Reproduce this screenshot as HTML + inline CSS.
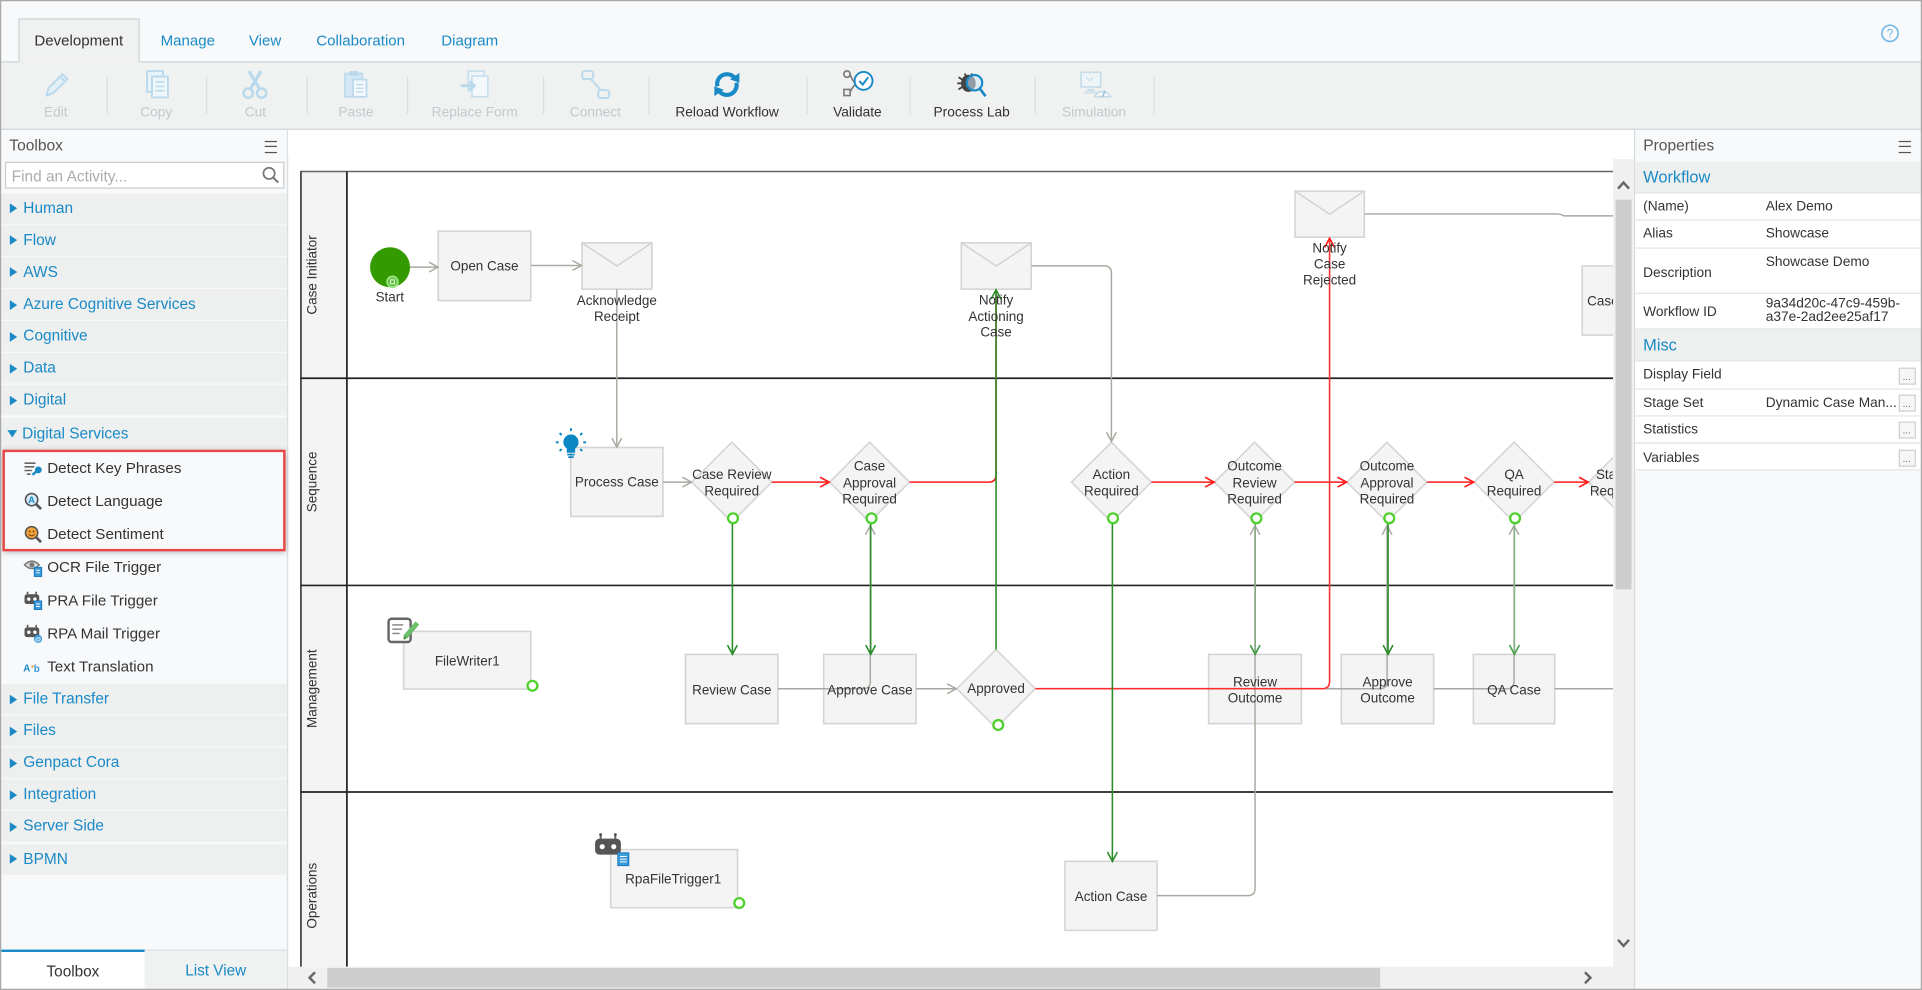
<!DOCTYPE html>
<html><head><meta charset="utf-8">
<style>
html,body{margin:0;padding:0;width:1922px;height:990px;overflow:hidden;background:#f8f9fb;}
#root{position:absolute;left:0;top:0;width:1568px;height:808px;transform:scale(1.22577,1.22525);transform-origin:0 0;font-family:"Liberation Sans",sans-serif;color:#333;background:#f8f9fb;overflow:hidden;}
.a{position:absolute;}
.tab{position:absolute;top:15px;height:35px;line-height:36px;font-size:12.3px;color:#1a8ac6;white-space:nowrap;}
.tb{position:absolute;top:85px;font-size:11.2px;text-align:center;width:110px;margin-left:-55px;line-height:15px;color:#c3c9ce;white-space:nowrap;}
.tb.on{color:#333;}
.sep{position:absolute;top:63px;width:1px;height:30px;background:#dcdedf;}
.ico{position:absolute;top:55.4px;width:28px;height:28px;margin-left:-14px;}
.cat{position:absolute;left:1px;width:233px;height:25px;background:#eeefef;font-size:12.6px;color:#1a8ac6;line-height:25px;white-space:nowrap;}
.cat .t{position:absolute;left:18px;}
.tri{position:absolute;left:7px;top:8.5px;width:0;height:0;border-top:4px solid transparent;border-bottom:4px solid transparent;border-left:6px solid #1a8ac6;}
.trid{position:absolute;left:5px;top:10px;width:0;height:0;border-left:4px solid transparent;border-right:4px solid transparent;border-top:6px solid #1a8ac6;}
.item{position:absolute;left:38.5px;font-size:12.4px;color:#333;height:20px;line-height:20px;margin-top:-10px;white-space:nowrap;}
.iic{position:absolute;left:19px;width:16px;height:16px;margin-top:-8px;}
.prow{position:absolute;left:1334px;width:233px;background:#fff;border-bottom:1px solid #e2e4e6;font-size:11.2px;color:#333;}
.prow .l{position:absolute;left:6.5px;}
.prow .v{position:absolute;left:106.5px;white-space:nowrap;}
.psec{position:absolute;left:1334px;width:233px;background:#eeefef;border-bottom:1px solid #e2e4e6;font-size:13.4px;color:#1a8ac6;}
.btn{position:absolute;left:214.5px;width:12px;height:12px;background:#f6f6f6;border:1px solid #cfcfcf;font-size:8px;line-height:14px;text-align:center;color:#666;}
.ham{position:absolute;width:10px;height:8px;border-top:1.4px solid #555;border-bottom:1.4px solid #555;}
.ham:after{content:"";position:absolute;left:0;top:3.3px;width:10px;height:1.4px;background:#555;}
</style></head>
<body>
<div id="root">

<!-- top tab strip -->
<div class="a" style="left:0;top:0;width:1568px;height:50px;background:#f8f9fb;"></div>
<div class="a" style="left:0;top:49.5px;width:1568px;height:1px;background:#cfd3d6;"></div>
<div class="a" style="left:14.6px;top:15px;width:99px;height:35.5px;background:#f0f1f1;border:1px solid #cfd3d6;border-bottom:none;box-sizing:border-box;"></div>
<div class="tab" style="left:28px;color:#333;">Development</div>
<div class="tab" style="left:131px;">Manage</div>
<div class="tab" style="left:203px;">View</div>
<div class="tab" style="left:258px;">Collaboration</div>
<div class="tab" style="left:360px;">Diagram</div>
<svg class="a" style="left:1533px;top:19px" width="18" height="18" viewBox="0 0 18 18"><circle cx="8.9" cy="8.2" r="6.6" fill="none" stroke="#72b6e6" stroke-width="1.3"/><text x="8.9" y="11.6" font-size="9.5" text-anchor="middle" fill="#72b6e6" font-family="Liberation Sans,sans-serif">?</text></svg>

<!-- toolbar -->
<div class="a" style="left:0;top:50.5px;width:1568px;height:54px;background:#f0f1f1;border-bottom:1px solid #cfd3d6;"></div>
<div class="sep" style="left:86.7px"></div>
<div class="sep" style="left:168.3px"></div>
<div class="sep" style="left:249.9px"></div>
<div class="sep" style="left:331.5px"></div>
<div class="sep" style="left:443.4px"></div>
<div class="sep" style="left:528.6px"></div>
<div class="sep" style="left:658px"></div>
<div class="sep" style="left:742px"></div>
<div class="sep" style="left:844px"></div>
<div class="sep" style="left:941px"></div>

<svg class="ico" style="left:45.5px" viewBox="0 0 28 28"><path d="M6 23 L7.5 17 L19 5.5 L23 9.5 L11.5 21 Z" fill="#e3f0f8" stroke="#b9d9ec" stroke-width="1.6" stroke-linejoin="round"/><line x1="17" y1="7.5" x2="21" y2="11.5" stroke="#b9d9ec" stroke-width="1.4"/></svg>
<div class="tb" style="left:45.5px">Edit</div>
<svg class="ico" style="left:127.5px" viewBox="0 0 28 28"><rect x="6" y="3" width="13" height="17" fill="#e8f3f9" stroke="#b9d9ec" stroke-width="1.5"/><rect x="10" y="7.5" width="13" height="17" fill="#eef6fb" stroke="#b9d9ec" stroke-width="1.5"/><line x1="13" y1="12" x2="20" y2="12" stroke="#b9d9ec" stroke-width="1.3"/><line x1="13" y1="15.5" x2="20" y2="15.5" stroke="#b9d9ec" stroke-width="1.3"/><line x1="13" y1="19" x2="20" y2="19" stroke="#b9d9ec" stroke-width="1.3"/></svg>
<div class="tb" style="left:127.5px">Copy</div>
<svg class="ico" style="left:208.4px" viewBox="0 0 28 28"><line x1="9" y1="3" x2="17.5" y2="17" stroke="#b9d9ec" stroke-width="2.6"/><line x1="19" y1="3" x2="10.5" y2="17" stroke="#b9d9ec" stroke-width="2.6"/><circle cx="8.5" cy="21" r="3.8" fill="none" stroke="#b9d9ec" stroke-width="2"/><circle cx="19.5" cy="21" r="3.8" fill="none" stroke="#b9d9ec" stroke-width="2"/></svg>
<div class="tb" style="left:208.4px">Cut</div>
<svg class="ico" style="left:290.4px" viewBox="0 0 28 28"><rect x="5.5" y="5" width="14" height="19" fill="#d3e8f4" stroke="#b9d9ec" stroke-width="1.4"/><rect x="9" y="3" width="7" height="4" fill="#b9d9ec"/><rect x="12" y="10" width="11" height="14" fill="#f2f8fc" stroke="#b9d9ec" stroke-width="1.4"/><line x1="14.5" y1="14" x2="20.5" y2="14" stroke="#b9d9ec"/><line x1="14.5" y1="17" x2="20.5" y2="17" stroke="#b9d9ec"/><line x1="14.5" y1="20" x2="20.5" y2="20" stroke="#b9d9ec"/></svg>
<div class="tb" style="left:290.4px">Paste</div>
<svg class="ico" style="left:387.3px" viewBox="0 0 28 28"><rect x="9" y="3" width="13" height="16" fill="#eef6fb" stroke="#c9dfec" stroke-width="1.4"/><rect x="12" y="7" width="13" height="17" fill="#f3f8fb" stroke="#c9dfec" stroke-width="1.4"/><path d="M3 15 H13 M10 11.5 L14 15 L10 18.5" fill="none" stroke="#b9d9ec" stroke-width="2.4"/></svg>
<div class="tb" style="left:387.3px">Replace Form</div>
<svg class="ico" style="left:485.7px" viewBox="0 0 28 28"><rect x="3" y="3" width="9" height="6.5" rx="2" fill="none" stroke="#b9d9ec" stroke-width="1.6"/><rect x="16" y="18.5" width="9" height="6.5" rx="2" fill="none" stroke="#b9d9ec" stroke-width="1.6"/><line x1="10" y1="9.5" x2="18" y2="18.5" stroke="#b9d9ec" stroke-width="1.6"/></svg>
<div class="tb" style="left:485.7px">Connect</div>
<svg class="ico" style="left:593.2px" viewBox="0 0 28 28"><path d="M6.3 15.5 A8 8 0 0 1 20.5 8.8" fill="none" stroke="#1a8ac6" stroke-width="3.4"/><polygon points="16.5,9.8 24.2,4.5 24.2,12.5" fill="#1a8ac6"/><path d="M21.7 12.5 A8 8 0 0 1 7.5 19.2" fill="none" stroke="#1a8ac6" stroke-width="3.4"/><polygon points="11.5,18.2 3.8,23.5 3.8,15.5" fill="#1a8ac6"/></svg>
<div class="tb on" style="left:593.2px">Reload Workflow</div>
<svg class="ico" style="left:699.5px" viewBox="0 0 28 28"><circle cx="5" cy="5.5" r="2.6" fill="none" stroke="#777" stroke-width="1.3"/><rect x="2.5" y="18" width="5" height="5" fill="none" stroke="#777" stroke-width="1.3"/><path d="M7.5 6 L10 11 L12 13.5 L10 16 L7.5 20" fill="none" stroke="#777" stroke-width="1.3"/><circle cx="18.5" cy="11" r="7.3" fill="#fff" stroke="#1a8ac6" stroke-width="1.6"/><path d="M15 11 L17.8 14 L22.3 8" fill="none" stroke="#1a8ac6" stroke-width="1.6"/></svg>
<div class="tb on" style="left:699.5px">Validate</div>
<svg class="ico" style="left:792.7px" viewBox="0 0 28 28"><ellipse cx="11" cy="13" rx="6" ry="7" fill="#444"/><path d="M3 8 L6 10 M2 13 H5 M3 18 L6 16 M8 5 L9 7 M14 5 L13 7" stroke="#444" stroke-width="1.5"/><circle cx="16" cy="12.5" r="6.3" fill="rgba(210,232,246,0.55)" stroke="#1a8ac6" stroke-width="1.8"/><line x1="20.3" y1="17.3" x2="25" y2="23.5" stroke="#1a8ac6" stroke-width="2.2"/></svg>
<div class="tb on" style="left:792.7px">Process Lab</div>
<svg class="ico" style="left:892.5px" viewBox="0 0 28 28"><rect x="3" y="4" width="16" height="12" fill="#eef5f9" stroke="#c8dce8" stroke-width="1.4"/><path d="M7 8 L10 11 L13 8" fill="none" stroke="#c8dce8"/><rect x="8" y="17.5" width="6" height="2" fill="#c8dce8"/><rect x="5" y="19.5" width="12" height="2" fill="#d6e4ec"/><path d="M14 24 A7 7 0 0 1 27 24 Z" fill="#f3f7fa" stroke="#c8dce8" stroke-width="1.3"/><line x1="20.5" y1="24" x2="22.5" y2="19" stroke="#9fc2da" stroke-width="1.4"/></svg>
<div class="tb" style="left:892.5px">Simulation</div>

<!-- left toolbox panel -->
<div class="a" style="left:0;top:105.5px;width:234px;height:702px;background:#f7f9fb;border-right:1px solid #dcdfe2;"></div>
<div class="a" style="left:7.6px;top:110px;font-size:12.7px;color:#555;line-height:18px;">Toolbox</div>
<div class="ham" style="left:216px;top:114.5px;"></div>
<div class="a" style="left:3.5px;top:132.4px;width:228px;height:22px;background:#fff;border:1px solid #c9cbcd;box-sizing:border-box;"></div>
<div class="a" style="left:9.5px;top:134.5px;font-size:12.6px;color:#a9adb0;line-height:18px;">Find an Activity...</div>
<svg class="a" style="left:213px;top:135px" width="16" height="16" viewBox="0 0 16 16"><circle cx="6.5" cy="6.5" r="4.6" fill="none" stroke="#777" stroke-width="1.4"/><line x1="10" y1="10" x2="14" y2="14" stroke="#777" stroke-width="1.7"/></svg>

<div class="cat" style="top:157.7px"><div class="tri"></div><span class="t">Human</span></div>
<div class="cat" style="top:183.8px"><div class="tri"></div><span class="t">Flow</span></div>
<div class="cat" style="top:209.9px"><div class="tri"></div><span class="t">AWS</span></div>
<div class="cat" style="top:236px"><div class="tri"></div><span class="t">Azure Cognitive Services</span></div>
<div class="cat" style="top:262.1px"><div class="tri"></div><span class="t">Cognitive</span></div>
<div class="cat" style="top:288.2px"><div class="tri"></div><span class="t">Data</span></div>
<div class="cat" style="top:314.3px"><div class="tri"></div><span class="t">Digital</span></div>
<div class="cat" style="top:340.6px;height:26px;line-height:26px;"><div class="trid"></div><span class="t" style="left:17px">Digital Services</span></div>

<div class="a" style="left:1.5px;top:367px;width:231px;height:82.5px;border:2px solid #e84545;box-sizing:border-box;box-shadow:0 1px 5px rgba(0,0,0,0.28);"></div>

<svg class="iic" style="top:381.5px" viewBox="0 0 16 16"><path d="M1 4 H10 M1 7 H9 M1 10 H7 M3 13 H6" stroke="#666" stroke-width="1.3"/><circle cx="12.3" cy="9.5" r="2.8" fill="#1a8ac6"/><line x1="7.5" y1="13.5" x2="10.5" y2="11" stroke="#1a8ac6" stroke-width="2"/></svg>
<div class="item" style="top:381.5px">Detect Key Phrases</div>
<svg class="iic" style="top:408.6px" viewBox="0 0 16 16"><circle cx="6.8" cy="6.8" r="5" fill="#d6ebf7" stroke="#555" stroke-width="1.3"/><text x="6.8" y="9.5" font-size="7.5" font-weight="bold" text-anchor="middle" fill="#1a8ac6" font-family="Liberation Sans,sans-serif">A</text><line x1="10.5" y1="10.5" x2="14.5" y2="14.5" stroke="#555" stroke-width="2.2"/></svg>
<div class="item" style="top:408.6px">Detect Language</div>
<svg class="iic" style="top:435.8px" viewBox="0 0 16 16"><circle cx="6.8" cy="6.8" r="5" fill="#f2a33a" stroke="#555" stroke-width="1.3"/><circle cx="5.2" cy="5.8" r="0.8" fill="#7a4a10"/><circle cx="8.4" cy="5.8" r="0.8" fill="#7a4a10"/><path d="M4.5 8 Q6.8 10.5 9.1 8" fill="none" stroke="#7a4a10" stroke-width="0.9"/><line x1="10.5" y1="10.5" x2="14.5" y2="14.5" stroke="#555" stroke-width="2.2"/></svg>
<div class="item" style="top:435.8px">Detect Sentiment</div>
<svg class="iic" style="top:462.8px" viewBox="0 0 16 16"><path d="M1 6 Q7 0 13 6 Q7 12 1 6 Z" fill="#ddd" stroke="#777" stroke-width="1.2"/><circle cx="7" cy="6" r="2" fill="#777"/><rect x="9" y="8" width="6" height="7.5" fill="#3a9ad9" stroke="#1a7ac0" stroke-width="0.8"/><line x1="10.5" y1="10.5" x2="13.5" y2="10.5" stroke="#fff" stroke-width="0.8"/><line x1="10.5" y1="12.5" x2="13.5" y2="12.5" stroke="#fff" stroke-width="0.8"/></svg>
<div class="item" style="top:462.8px">OCR File Trigger</div>
<svg class="iic" style="top:490px" viewBox="0 0 16 16"><rect x="1" y="3" width="12" height="8" rx="2" fill="#555"/><circle cx="4.5" cy="7" r="1.4" fill="#fff"/><circle cx="9.5" cy="7" r="1.4" fill="#fff"/><line x1="3.5" y1="1" x2="3.5" y2="3" stroke="#555" stroke-width="1.3"/><line x1="10.5" y1="1" x2="10.5" y2="3" stroke="#555" stroke-width="1.3"/><rect x="9" y="8.5" width="6" height="7" fill="#3a9ad9" stroke="#1a7ac0" stroke-width="0.8"/><line x1="10.5" y1="11" x2="13.5" y2="11" stroke="#fff" stroke-width="0.8"/><line x1="10.5" y1="13" x2="13.5" y2="13" stroke="#fff" stroke-width="0.8"/></svg>
<div class="item" style="top:490px">PRA File Trigger</div>
<svg class="iic" style="top:517.2px" viewBox="0 0 16 16"><rect x="1" y="3" width="12" height="8" rx="2" fill="#555"/><circle cx="4.5" cy="7" r="1.4" fill="#fff"/><circle cx="9.5" cy="7" r="1.4" fill="#fff"/><line x1="3.5" y1="1" x2="3.5" y2="3" stroke="#555" stroke-width="1.3"/><line x1="10.5" y1="1" x2="10.5" y2="3" stroke="#555" stroke-width="1.3"/><circle cx="12" cy="12.5" r="3.4" fill="#3a9ad9"/><text x="12" y="14.5" font-size="5.5" text-anchor="middle" fill="#fff" font-family="Liberation Sans,sans-serif">@</text></svg>
<div class="item" style="top:517.2px">RPA Mail Trigger</div>
<svg class="iic" style="top:544.4px" viewBox="0 0 16 16"><text x="0" y="12" font-size="8" font-weight="bold" fill="#1a8ac6" font-family="Liberation Sans,sans-serif">A</text><circle cx="7.5" cy="8" r="1" fill="#f2a33a"/><text x="8.5" y="12.5" font-size="8" font-weight="bold" fill="#3a9ad9" font-family="Liberation Sans,sans-serif">b</text></svg>
<div class="item" style="top:544.4px">Text Translation</div>

<div class="cat" style="top:558px"><div class="tri"></div><span class="t">File Transfer</span></div>
<div class="cat" style="top:584.1px"><div class="tri"></div><span class="t">Files</span></div>
<div class="cat" style="top:610.2px"><div class="tri"></div><span class="t">Genpact Cora</span></div>
<div class="cat" style="top:636.3px"><div class="tri"></div><span class="t">Integration</span></div>
<div class="cat" style="top:662.4px"><div class="tri"></div><span class="t">Server Side</span></div>
<div class="cat" style="top:688.5px"><div class="tri"></div><span class="t">BPMN</span></div>

<div class="a" style="left:118px;top:774.5px;width:116px;height:32px;background:#f0f1f1;border-top:1px solid #dcdfe2;box-sizing:border-box;font-size:12.5px;color:#1a8ac6;text-align:center;line-height:32px;">List View</div>
<div class="a" style="left:1px;top:774.5px;width:117px;height:32px;background:#fff;border-top:2px solid #1a8ac6;box-sizing:border-box;font-size:12.5px;color:#333;text-align:center;line-height:32px;">Toolbox</div>

<!-- diagram area -->
<div class="a" style="left:235px;top:105.5px;width:1098px;height:24px;background:#fff;border-bottom:1px solid #e0e3e5;"></div>
<svg class="a" style="left:236px;top:129px" width="1080" height="660" viewBox="236 129 1080 660" font-family="Liberation Sans,sans-serif" font-size="11">
<rect x="236" y="129" width="1080" height="660" fill="#fff"/>
<rect x="245" y="140" width="38" height="660" fill="#f3f3f3"/>
<line x1="245" y1="140" x2="1316" y2="140" stroke="#666" stroke-width="1.2"/>
<line x1="245" y1="308.7" x2="1316" y2="308.7" stroke="#222" stroke-width="1.4"/>
<line x1="245" y1="477.8" x2="1316" y2="477.8" stroke="#222" stroke-width="1.4"/>
<line x1="245" y1="646.4" x2="1316" y2="646.4" stroke="#222" stroke-width="1.4"/>
<line x1="245.5" y1="140" x2="245.5" y2="800" stroke="#222" stroke-width="1.2"/>
<line x1="283" y1="140" x2="283" y2="800" stroke="#222" stroke-width="1.4"/>
<g fill="#333" text-anchor="middle" dominant-baseline="central">
<text transform="translate(254.5,224.4) rotate(-90)">Case Initiator</text>
<text transform="translate(254.5,393.3) rotate(-90)">Sequence</text>
<text transform="translate(254.5,562.1) rotate(-90)">Management</text>
<text transform="translate(254.5,731) rotate(-90)">Operations</text>
</g>

<!-- nodes -->
<g fill="#f4f4f4" stroke="#d4d4d4" stroke-width="1.3">
<rect x="357.5" y="188.7" width="75.5" height="56.6"/>
<rect x="474.8" y="198.2" width="57" height="37.8"/>
<rect x="784.3" y="198.2" width="57" height="37.8"/>
<rect x="1056.5" y="156" width="56.5" height="37.6"/>
<rect x="1290.8" y="217" width="75" height="56.5"/>
<rect x="465.6" y="365.2" width="75.2" height="56.3"/>
<polygon points="597,360.9 629.6,393.5 597,426.1 564.4,393.5"/>
<polygon points="709.4,360.9 742,393.5 709.4,426.1 676.8,393.5"/>
<polygon points="906.7,360.9 939.3,393.5 906.7,426.1 874.1,393.5"/>
<polygon points="1023.5,360.9 1056.1,393.5 1023.5,426.1 990.9,393.5"/>
<polygon points="1131.5,360.9 1164.1,393.5 1131.5,426.1 1098.9,393.5"/>
<polygon points="1235.2,360.9 1267.8,393.5 1235.2,426.1 1202.6,393.5"/>
<polygon points="1328.6,360.9 1361.2,393.5 1328.6,426.1 1296,393.5"/>
<rect x="329.3" y="515.3" width="103.7" height="47.1"/>
<rect x="559.2" y="534.1" width="75.4" height="56.5"/>
<rect x="672" y="534.1" width="75.3" height="56.5"/>
<polygon points="812.6,530.1 844.6,562.1 812.6,594.1 780.6,562.1"/>
<rect x="986" y="534.1" width="75.7" height="56.5"/>
<rect x="1094.3" y="534.1" width="75.3" height="56.5"/>
<rect x="1202" y="534.1" width="66.3" height="56.5"/>
<rect x="498.2" y="693.4" width="103.5" height="47.4"/>
<rect x="868.8" y="703" width="75.1" height="56.3"/>
</g>
<g fill="none" stroke="#d2d2d2" stroke-width="1.2">
<polyline points="474.8,198.2 503.3,217.1 531.8,198.2"/>
<polyline points="784.3,198.2 812.8,217.1 841.3,198.2"/>
<polyline points="1056.5,156 1084.7,174.8 1113,156"/>
</g>
<circle cx="318.2" cy="218.1" r="16.3" fill="#339a00"/>

<!-- gray connectors -->
<g fill="none" stroke="#a9a9a1" stroke-width="1.2">
<path d="M334.5 218 H357"/><path d="M350 214 L357.3 218 L350 222"/>
<path d="M433 216.7 H474.5"/><path d="M467 212.7 L474.5 216.7 L467 220.7"/>
<path d="M503.2 236 V365"/><path d="M499.2 357.5 L503.2 365 L507.2 357.5"/>
<path d="M540.8 393.5 H564.2"/><path d="M556.7 389.5 L564.2 393.5 L556.7 397.5"/>
<path d="M841.4 217 H900.7 Q906.7 217 906.7 223 V360.3"/><path d="M902.7 352.8 L906.7 360.3 L910.7 352.8"/>
<path d="M1113 174.6 H1270 Q1273 174.6 1276 176.2 H1316"/>
<path d="M634.6 562.1 H704 Q710 562.1 710 556 V429"/><path d="M706 436.5 L710 429 L714 436.5"/>
<path d="M747.3 562.1 H780.2"/><path d="M772.7 558.1 L780.2 562.1 L772.7 566.1"/>
<path d="M943.9 731 H1017.9 Q1023.9 731 1023.9 725 V429"/><path d="M1019.9 436.5 L1023.9 429 L1027.9 436.5"/>
<path d="M1061.7 562.1 H1125.6 Q1131.6 562.1 1131.6 556 V429"/><path d="M1127.6 436.5 L1131.6 429 L1135.6 436.5"/>
<path d="M1169.6 562.1 H1229.2 Q1235.2 562.1 1235.2 556 V429"/><path d="M1231.2 436.5 L1235.2 429 L1239.2 436.5"/>
<path d="M1268.3 562.1 H1316"/>
</g>
<!-- red connectors -->
<g fill="none" stroke="#ff1a1a" stroke-width="1.3">
<path d="M629.6 393.5 H676.5"/><path d="M669 389.5 L676.5 393.5 L669 397.5"/>
<path d="M742 393.5 H806.6 Q812.6 393.5 812.6 387.5 V240"/>
<path d="M939.3 393.5 H990.6"/><path d="M983.1 389.5 L990.6 393.5 L983.1 397.5"/>
<path d="M1056.1 393.5 H1098.6"/><path d="M1091.1 389.5 L1098.6 393.5 L1091.1 397.5"/>
<path d="M1164.1 393.5 H1202.3"/><path d="M1194.8 389.5 L1202.3 393.5 L1194.8 397.5"/>
<path d="M1267.8 393.5 H1295.7"/><path d="M1288.2 389.5 L1295.7 393.5 L1288.2 397.5"/>
<path d="M844.6 562.1 H1078.7 Q1084.7 562.1 1084.7 556.1 V194.4" stroke="#ff3030"/><path d="M1080.7 201.9 L1084.7 194.4 L1088.7 201.9"/>
</g>
<!-- green connectors -->
<g fill="none" stroke="#2a8c2a" stroke-width="1.3">
<path d="M812.6 530.1 V236.5"/><path d="M808.6 244 L812.6 236.5 L816.6 244"/>
<path d="M597.5 427.5 V534"/><path d="M593.5 526.5 L597.5 534 L601.5 526.5"/>
<path d="M710.3 427.5 V534"/><path d="M706.3 526.5 L710.3 534 L714.3 526.5"/>
<path d="M907.5 427.5 V703"/><path d="M903.5 695.5 L907.5 703 L911.5 695.5"/>
<path d="M1024 427.5 V534" stroke="#86a886"/><path d="M1020 526.5 L1024 534 L1028 526.5" stroke="#3a9a3a"/>
<path d="M1132.4 427.5 V534"/><path d="M1128.4 526.5 L1132.4 534 L1136.4 526.5"/>
<path d="M1235.5 427.5 V534" stroke="#8ab58a"/><path d="M1231.5 526.5 L1235.5 534 L1239.5 526.5" stroke="#4aa04a"/>
</g>

<!-- labels -->
<g fill="#333" text-anchor="middle" dominant-baseline="central">
<text x="318" y="242.6">Start</text>
<text x="395.2" y="217">Open Case</text>
<text x="503.2" y="245.3">Acknowledge</text>
<text x="503.2" y="258.3">Receipt</text>
<text x="812.6" y="244.8">Notify</text>
<text x="812.6" y="258.3">Actioning</text>
<text x="812.6" y="271.1">Case</text>
<text x="1084.7" y="202.6">Notify</text>
<text x="1084.7" y="215.6">Case</text>
<text x="1084.7" y="228.4">Rejected</text>
<text x="1294.8" y="245.6" text-anchor="start">Case</text>
<text x="503.2" y="393.5">Process Case</text>
<text x="597" y="387.3">Case Review</text>
<text x="597" y="400.8">Required</text>
<text x="709.4" y="380.2">Case</text>
<text x="709.4" y="394.1">Approval</text>
<text x="709.4" y="407.3">Required</text>
<text x="906.7" y="387.3">Action</text>
<text x="906.7" y="400.8">Required</text>
<text x="1023.5" y="380.2">Outcome</text>
<text x="1023.5" y="394.1">Review</text>
<text x="1023.5" y="407.3">Required</text>
<text x="1131.5" y="380.2">Outcome</text>
<text x="1131.5" y="394.1">Approval</text>
<text x="1131.5" y="407.3">Required</text>
<text x="1235.2" y="387.3">QA</text>
<text x="1235.2" y="400.8">Required</text>
<text x="1302" y="387.3" text-anchor="start">Stage</text>
<text x="1297" y="400.8" text-anchor="start">Required</text>
<text x="381.2" y="539.5">FileWriter1</text>
<text x="597" y="563">Review Case</text>
<text x="709.7" y="563">Approve Case</text>
<text x="812.6" y="562.1">Approved</text>
<text x="1023.9" y="556.6">Review</text>
<text x="1023.9" y="569.7">Outcome</text>
<text x="1132" y="556.6">Approve</text>
<text x="1132" y="569.7">Outcome</text>
<text x="1235.2" y="563">QA Case</text>
<text x="549.2" y="717.4">RpaFileTrigger1</text>
<text x="906.4" y="731.5">Action Case</text>
</g>

<!-- ports -->
<g fill="#fff" stroke="#4fd02f" stroke-width="1.9">
<circle cx="598" cy="423" r="4"/>
<circle cx="711" cy="423" r="4"/>
<circle cx="908" cy="423" r="4"/>
<circle cx="1025" cy="423" r="4"/>
<circle cx="1133.4" cy="423" r="4"/>
<circle cx="1236" cy="423" r="4"/>
<circle cx="814.4" cy="591.7" r="4"/>
<circle cx="434.4" cy="559.7" r="4"/>
<circle cx="603.1" cy="737" r="4"/>
</g>
<circle cx="320.2" cy="230" r="4.4" fill="#5fbf3f" stroke="#9be585" stroke-width="1.5"/>
<rect x="318.6" y="228.4" width="3.2" height="3.2" fill="none" stroke="#d6f5cc" stroke-width="0.9"/>

<!-- icons -->
<g fill="#0b87c3" stroke="#0b87c3">
<circle cx="465.8" cy="360.8" r="6.2" stroke="none"/>
<rect x="462.4" y="365" width="6.8" height="4.5" stroke="none"/>
<rect x="462.8" y="370.3" width="6" height="1.4" stroke="none"/>
<rect x="463.6" y="372.4" width="4.4" height="1.4" stroke="none"/>
<g stroke-width="1.6" fill="none">
<line x1="465.8" y1="349.5" x2="465.8" y2="351.8"/>
<line x1="456.5" y1="353.5" x2="458.3" y2="355"/>
<line x1="475.1" y1="353.5" x2="473.3" y2="355"/>
<line x1="453.5" y1="361" x2="455.8" y2="361"/>
<line x1="478.1" y1="361" x2="475.8" y2="361"/>
<line x1="456.5" y1="368" x2="458.3" y2="366.6"/>
<line x1="475.1" y1="368" x2="473.3" y2="366.6"/>
</g>
</g>
<rect x="317" y="505" width="18" height="19" rx="2.5" fill="#fff" stroke="#666" stroke-width="2"/>
<g stroke="#888" stroke-width="1.2"><line x1="320" y1="510" x2="329" y2="510"/><line x1="320" y1="513.5" x2="328" y2="513.5"/><line x1="320" y1="517" x2="326" y2="517"/></g>
<line x1="330.5" y1="520" x2="340.5" y2="508.5" stroke="#6cc06c" stroke-width="4"/>
<line x1="329.5" y1="521.5" x2="331" y2="519.5" stroke="#4a9a4a" stroke-width="2"/>
<rect x="485.5" y="684.5" width="21" height="13" rx="3.5" fill="#555"/>
<circle cx="491.3" cy="691" r="2.1" fill="#fff"/>
<circle cx="500.7" cy="691" r="2.1" fill="#fff"/>
<line x1="490" y1="681.5" x2="490" y2="684.5" stroke="#555" stroke-width="1.5"/>
<line x1="502" y1="681.5" x2="502" y2="684.5" stroke="#555" stroke-width="1.5"/>
<circle cx="490" cy="681.2" r="1.2" fill="#555"/><circle cx="502" cy="681.2" r="1.2" fill="#555"/>
<rect x="504" y="696" width="9" height="10.5" fill="#3a9ad9" stroke="#1a7ac0" stroke-width="0.8"/>
<g stroke="#fff" stroke-width="0.8"><line x1="505.7" y1="699" x2="511.3" y2="699"/><line x1="505.7" y1="701.2" x2="511.3" y2="701.2"/><line x1="505.7" y1="703.4" x2="511.3" y2="703.4"/></g>
</svg>

<!-- scrollbars -->
<div class="a" style="left:1316px;top:129.5px;width:17px;height:677px;background:#f0f0f0;"></div>
<div class="a" style="left:1318px;top:162.5px;width:13px;height:318px;background:#cdcdcd;"></div>
<svg class="a" style="left:1316px;top:144px" width="17" height="14" viewBox="0 0 17 14"><path d="M4 10 L8.5 5 L13 10" fill="none" stroke="#666" stroke-width="2"/></svg>
<svg class="a" style="left:1316px;top:763px" width="17" height="14" viewBox="0 0 17 14"><path d="M4 4 L8.5 9 L13 4" fill="none" stroke="#666" stroke-width="2"/></svg>
<div class="a" style="left:235px;top:789px;width:1081px;height:17.5px;background:#f0f0f0;"></div>
<div class="a" style="left:267px;top:790px;width:859px;height:15.5px;background:#cdcdcd;"></div>
<svg class="a" style="left:247px;top:790px" width="16" height="16" viewBox="0 0 16 16"><path d="M10 3.5 L5.5 8 L10 12.5" fill="none" stroke="#666" stroke-width="2"/></svg>
<svg class="a" style="left:1287px;top:790px" width="16" height="16" viewBox="0 0 16 16"><path d="M6 3.5 L10.5 8 L6 12.5" fill="none" stroke="#666" stroke-width="2"/></svg>

<!-- properties panel -->
<div class="a" style="left:1333px;top:105.5px;width:235px;height:702px;background:#f7f9fb;border-left:1px solid #d8dbde;"></div>
<div class="a" style="left:1340.6px;top:110px;font-size:12.7px;color:#555;line-height:18px;">Properties</div>
<div class="ham" style="left:1549px;top:114.5px;"></div>

<div class="psec" style="top:132.4px;height:24.8px;line-height:26px;"><span style="position:absolute;left:6.5px;">Workflow</span></div>
<div class="prow" style="top:157.7px;height:21.6px;line-height:22px;"><span class="l">(Name)</span><span class="v">Alex Demo</span></div>
<div class="prow" style="top:180.3px;height:21.3px;line-height:22px;"><span class="l">Alias</span><span class="v">Showcase</span></div>
<div class="prow" style="top:202.6px;height:36.5px;"><span class="l" style="top:13px;line-height:14px;">Description</span><span class="v" style="top:4px;line-height:14px;">Showcase Demo</span></div>
<div class="prow" style="top:240.1px;height:27.6px;"><span class="l" style="top:7.5px;line-height:14px;">Workflow ID</span><span class="v" style="top:2.5px;line-height:11.5px;">9a34d20c-47c9-459b-<br>a37e-2ad2ee25af17</span></div>
<div class="psec" style="top:268.7px;height:25.4px;line-height:26px;"><span style="position:absolute;left:6.5px;">Misc</span></div>
<div class="prow" style="top:295.1px;height:21.5px;line-height:22px;"><span class="l">Display Field</span><div class="btn" style="top:4.5px;">...</div></div>
<div class="prow" style="top:317.6px;height:21px;line-height:22px;"><span class="l">Stage Set</span><span class="v">Dynamic Case Man...</span><div class="btn" style="top:4.3px;">...</div></div>
<div class="prow" style="top:339.6px;height:21.9px;line-height:22px;"><span class="l">Statistics</span><div class="btn" style="top:4.5px;">...</div></div>
<div class="prow" style="top:362.5px;height:20.8px;line-height:22px;"><span class="l">Variables</span><div class="btn" style="top:4px;">...</div></div>

<!-- outer border -->
<div class="a" style="left:0;top:0;width:1568px;height:807.5px;box-shadow:inset 0 0 0 1px #a9a9a9;pointer-events:none;"></div>
</div>
</body></html>
